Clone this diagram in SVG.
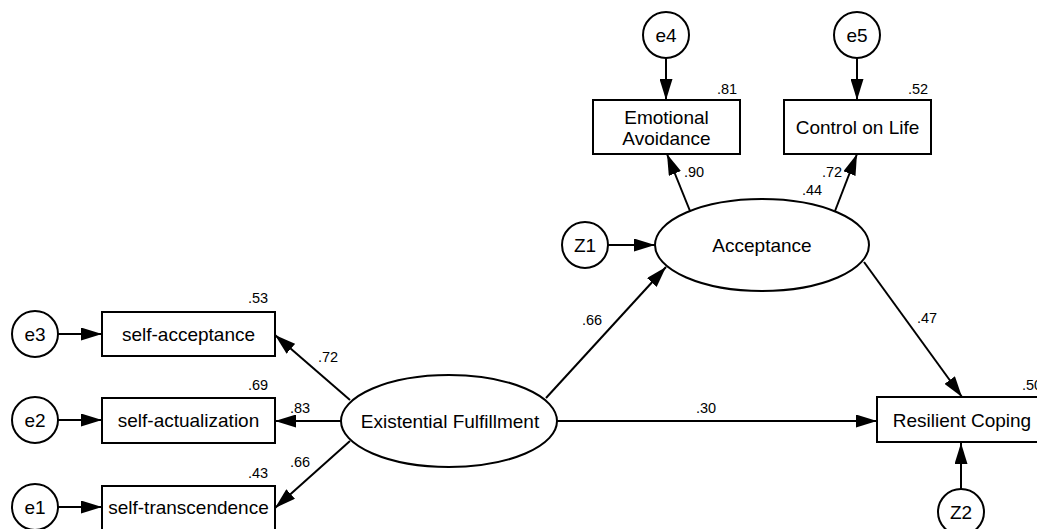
<svg xmlns="http://www.w3.org/2000/svg" width="1037" height="529" viewBox="0 0 1037 529">
<style>
.n{fill:#fff;stroke:#000;stroke-width:2}
.t{font-family:"Liberation Sans",Arial,sans-serif;font-size:19px;fill:#000;text-anchor:middle}
.v{font-family:"Liberation Sans",Arial,sans-serif;font-size:14.5px;fill:#000;text-anchor:middle}
.c line{stroke:#000;stroke-width:2;marker-end:url(#ah)}
</style>
<defs>
<marker id="ah" markerUnits="userSpaceOnUse" markerWidth="21" markerHeight="13" viewBox="0 0 21 13" refX="21" refY="6.5" orient="auto">
<path d="M0,0 L21,6.5 L0,13 z" fill="#000"/>
</marker>
</defs>
<rect width="1037" height="529" fill="#fff"/>
<g class="c" id="connectors">
<line x1="58" y1="334" x2="102" y2="334"/>
<line x1="58" y1="420" x2="102" y2="420"/>
<line x1="58" y1="507" x2="102" y2="507"/>
<line x1="350" y1="400" x2="275" y2="335"/>
<line x1="341" y1="421" x2="275" y2="421"/>
<line x1="350" y1="441" x2="275" y2="508"/>
<line x1="546" y1="398" x2="666" y2="267"/>
<line x1="557" y1="421" x2="877" y2="421"/>
<line x1="864" y1="262" x2="962" y2="397"/>
<line x1="608" y1="245" x2="655" y2="245"/>
<line x1="961" y1="489" x2="961" y2="443"/>
<line x1="666" y1="58" x2="666" y2="100"/>
<line x1="857" y1="58" x2="857" y2="100"/>
<line x1="690" y1="211" x2="667" y2="154"/>
<line x1="835" y1="211" x2="857" y2="154"/>
</g>
<g id="labels">
<text class="v" x="727" y="94">.81</text>
<text class="v" x="918" y="94">.52</text>
<text class="v" x="694" y="177">.90</text>
<text class="v" x="832" y="177">.72</text>
<text class="v" x="812" y="195">.44</text>
<text class="v" x="258" y="303">.53</text>
<text class="v" x="258" y="390">.69</text>
<text class="v" x="258" y="478">.43</text>
<text class="v" x="328" y="362">.72</text>
<text class="v" x="300" y="413">.83</text>
<text class="v" x="300" y="467">.66</text>
<text class="v" x="592" y="325">.66</text>
<text class="v" x="927" y="323">.47</text>
<text class="v" x="706" y="413">.30</text>
<text class="v" x="1022" y="390" style="text-anchor:start">.50</text>
</g>
<g id="e4"><circle class="n" cx="666" cy="35" r="23"/><text class="t" x="666" y="42">e4</text></g>
<g id="e5"><circle class="n" cx="857" cy="35" r="23"/><text class="t" x="857" y="42">e5</text></g>
<g id="emotional-avoidance"><rect class="n" x="593" y="100" width="147" height="54"/><text class="t" x="666.5" y="124">Emotional</text><text class="t" x="666.5" y="145">Avoidance</text></g>
<g id="control-on-life"><rect class="n" x="784" y="100" width="147" height="54"/><text class="t" x="857.5" y="134">Control on Life</text></g>
<g id="z1"><circle class="n" cx="585" cy="245" r="23"/><text class="t" x="585" y="252">Z1</text></g>
<g id="acceptance"><ellipse class="n" cx="762" cy="245" rx="107" ry="46"/><text class="t" x="762" y="252">Acceptance</text></g>
<g id="existential-fulfillment"><ellipse class="n" cx="449" cy="421" rx="108" ry="46"/><text class="t" x="450" y="428">Existential Fulfillment</text></g>
<g id="resilient-coping"><rect class="n" x="877" y="397" width="170" height="45"/><text class="t" x="962" y="427">Resilient Coping</text></g>
<g id="z2"><circle class="n" cx="961" cy="512" r="23"/><text class="t" x="961" y="519">Z2</text></g>
<g id="e3"><circle class="n" cx="35" cy="334" r="23"/><text class="t" x="35" y="341">e3</text></g>
<g id="e2"><circle class="n" cx="35" cy="420" r="23"/><text class="t" x="35" y="427">e2</text></g>
<g id="e1"><circle class="n" cx="35" cy="507" r="23"/><text class="t" x="35" y="514">e1</text></g>
<g id="self-acceptance"><rect class="n" x="102" y="312" width="173" height="44"/><text class="t" x="188.5" y="341">self-acceptance</text></g>
<g id="self-actualization"><rect class="n" x="102" y="398" width="173" height="45"/><text class="t" x="188.5" y="427">self-actualization</text></g>
<g id="self-transcendence"><rect class="n" x="102" y="486" width="173" height="45"/><text class="t" x="188.5" y="514">self-transcendence</text></g>
</svg>
